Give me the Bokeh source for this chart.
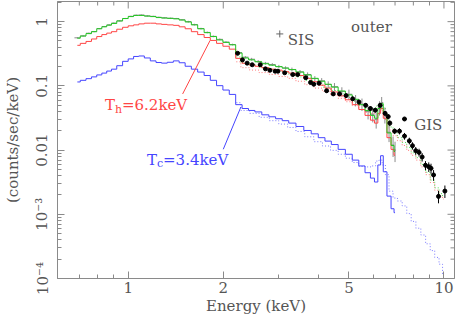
import numpy as np
from math import pi
from bokeh.plotting import figure
from bokeh.models import FixedTicker
from bokeh.core.properties import value
from bokeh.embed import file_html
from bokeh.resources import INLINE

# ---------------- data ----------------
sis_energy = [0.69, 0.72, 0.75, 0.78, 0.81, 0.84, 0.87, 0.90, 0.94, 0.98,
              1.02, 1.06, 1.10, 1.15, 1.20, 1.25, 1.30, 1.36, 1.42, 1.48,
              1.55, 1.62, 1.70, 1.78, 1.86, 1.95, 2.04, 2.14, 2.24, 2.35,
              2.46, 2.58, 2.72, 2.86, 3.00, 3.15, 3.30, 3.50, 3.70, 3.90,
              4.10, 4.30, 4.50, 4.75, 5.00, 5.25, 5.50, 5.75, 5.95, 6.10,
              6.25, 6.35, 6.50, 6.70, 6.90, 7.00]
sis_total = [0.553, 0.597, 0.651, 0.698, 0.775, 0.831, 0.882, 0.939, 1.025, 1.118,
             1.199, 1.250, 1.250, 1.220, 1.199, 1.158, 1.138, 1.126, 1.106, 1.061,
             0.990, 0.891, 0.775, 0.674, 0.586, 0.519, 0.476, 0.436, 0.324, 0.272,
             0.254, 0.237, 0.221, 0.210, 0.199, 0.189, 0.179, 0.164, 0.148, 0.131,
             0.118, 0.106, 0.0956, 0.0831, 0.0723, 0.0618, 0.0510, 0.0414, 0.0347, 0.0313,
             0.0444, 0.0528, 0.0373, 0.0185, 0.0118, 0.0095]
sis_hot = [0.428, 0.459, 0.492, 0.537, 0.586, 0.629, 0.663, 0.698, 0.762, 0.817,
           0.861, 0.891, 0.923, 0.946, 0.946, 0.923, 0.907, 0.891, 0.876, 0.831,
           0.775, 0.698, 0.629, 0.566, 0.510, 0.459, 0.414, 0.373, 0.268, 0.225,
           0.213, 0.202, 0.192, 0.182, 0.176, 0.167, 0.158, 0.145, 0.131, 0.116,
           0.1025, 0.0923, 0.0803, 0.0698, 0.0607, 0.0510, 0.0428, 0.0347, 0.0292, 0.0263,
           0.0373, 0.0444, 0.0313, 0.0156, 0.01025, 0.0083]
sis_cool = [0.115, 0.122, 0.1295, 0.138, 0.148, 0.158, 0.170, 0.182, 0.206, 0.241,
            0.263, 0.287, 0.292, 0.272, 0.245, 0.231, 0.226, 0.233, 0.245, 0.229,
            0.202, 0.182, 0.164, 0.145, 0.122, 0.1007, 0.0861, 0.0736, 0.0510, 0.0444,
            0.0414, 0.0393, 0.0354, 0.0330, 0.0308, 0.0287, 0.0263, 0.0233, 0.0202, 0.0179,
            0.0156, 0.0138, 0.0122, 0.01025, 0.00861, 0.00698, 0.00566, 0.00444, 0.00366, 0.00318,
            0.00586, 0.00817, 0.00459, 0.00192, 0.00122, 0.00106]
sis_data = [0.56, 0.60, 0.66, 0.70, 0.78, 0.84, 0.89, 0.95, 1.03, 1.12,
            1.21, 1.26, 1.27, 1.23, 1.21, 1.17, 1.15, 1.13, 1.12, 1.07,
            1.00, 0.90, 0.78, 0.68, 0.59, 0.53, 0.48, 0.44, 0.33, 0.28,
            0.26, 0.24, 0.225, 0.215, 0.20, 0.19, 0.18, 0.165, 0.15, 0.13,
            0.12, 0.105, 0.097, 0.082, 0.074, 0.060, 0.052, 0.040, 0.036, 0.030,
            0.046, 0.055, 0.036, 0.019, 0.012, 0.010]
sis_data_err = [0.02, 0.02, 0.02, 0.02, 0.02, 0.02, 0.02, 0.02, 0.02, 0.02,
                0.02, 0.02, 0.02, 0.02, 0.02, 0.02, 0.02, 0.02, 0.02, 0.02,
                0.03, 0.03, 0.03, 0.03, 0.03, 0.03, 0.03, 0.03, 0.04, 0.04,
                0.05, 0.05, 0.05, 0.05, 0.06, 0.06, 0.07, 0.07, 0.08, 0.09,
                0.10, 0.12, 0.14, 0.16, 0.18, 0.20, 0.22, 0.25, 0.25, 0.28,
                0.25, 0.22, 0.28, 0.30, 0.35, 0.35]

gis_energy = [2.2, 2.35, 2.5, 2.7, 2.9, 3.1, 3.3, 3.5, 3.75, 4.0,
              4.25, 4.5, 4.75, 5.0, 5.25, 5.5, 5.75, 6.0, 6.15, 6.3,
              6.45, 6.6, 6.8, 7.0, 7.25, 7.5, 7.75, 8.0, 8.3, 8.6,
              8.9, 9.2, 9.5, 9.8, 10.0]
gis_total = [0.282, 0.229, 0.210, 0.192, 0.179, 0.167, 0.153, 0.138, 0.122, 0.108,
             0.0956, 0.0846, 0.0748, 0.0663, 0.0576, 0.0501, 0.0451, 0.0436, 0.0484, 0.0519,
             0.0451, 0.0336, 0.0229, 0.0185, 0.0156, 0.0131, 0.0110, 0.00907, 0.00762, 0.00597,
             0.00451, 0.00341, 0.00258, 0.00210, 0.00189]
gis_hot = [0.237, 0.192, 0.176, 0.161, 0.1504, 0.140, 0.131, 0.118, 0.1043, 0.0923,
           0.0817, 0.0723, 0.0640, 0.0566, 0.0492, 0.0428, 0.0386, 0.0373, 0.0414, 0.0444,
           0.0386, 0.0292, 0.0206, 0.0167, 0.0140, 0.0118, 0.0099, 0.0083, 0.00698, 0.00547,
           0.00414, 0.00313, 0.00237, 0.00192, 0.00173]
gis_cool = [0.0547, 0.0414, 0.0373, 0.0324, 0.0287, 0.0254, 0.0225, 0.0195, 0.0161, 0.0135,
            0.01158, 0.00990, 0.00861, 0.00748, 0.00640, 0.00556, 0.00547, 0.00566, 0.00674, 0.00698,
            0.00586, 0.00414, 0.00229, 0.00179, 0.00161, 0.00135, 0.001025, 0.000775, 0.000607, 0.000476,
            0.000347, 0.000272, 0.000213, 0.000167, 0.000118]

gis_data_energy = [2.22, 2.30, 2.38, 2.47, 2.62, 2.72, 2.81, 2.92, 2.98, 3.13,
                   3.32, 3.44, 3.65, 3.78, 3.87, 4.02, 4.25, 4.46, 4.67, 4.90,
                   5.14, 5.38, 5.65, 5.85, 6.06, 6.28, 6.51, 6.66, 6.74, 6.98,
                   7.23, 7.50, 7.77, 7.95, 8.14, 8.34, 8.53, 8.74, 8.95, 9.10,
                   9.27, 9.61, 10.07]
gis_data = [0.321, 0.254, 0.226, 0.213, 0.213, 0.184, 0.175, 0.169, 0.169, 0.160,
            0.150, 0.150, 0.134, 0.113, 0.106, 0.110, 0.084, 0.075, 0.075, 0.0705,
            0.0629, 0.0560, 0.0498, 0.0444, 0.0418, 0.0498, 0.0373, 0.0332, 0.0263, 0.0197,
            0.0197, 0.0165, 0.0139, 0.0117, 0.0098, 0.0092, 0.0078, 0.0058, 0.0055, 0.0052,
            0.0041, 0.0019, 0.0023]
gis_data_err = [0.05, 0.05, 0.05, 0.05, 0.05, 0.05, 0.05, 0.05, 0.05, 0.05,
                0.06, 0.06, 0.06, 0.06, 0.06, 0.06, 0.07, 0.07, 0.07, 0.07,
                0.08, 0.08, 0.08, 0.08, 0.08, 0.08, 0.09, 0.09, 0.10, 0.10,
                0.11, 0.12, 0.12, 0.13, 0.14, 0.14, 0.15, 0.16, 0.17, 0.18,
                0.19, 0.22, 0.22]

x_major = [1, 2, 5, 10]
x_minor = [0.7, 0.8, 0.9, 3, 4, 6, 7, 8, 9]
y_major = [1e-4, 1e-3, 1e-2, 1e-1, 1]
y_labels = {1e-4: "10\u207b\u2074", 1e-3: "10\u207b\u00b3", 1e-2: "0.01", 1e-1: "0.1", 1: "1"}

# annotation anchors (energy, flux)
label_outer = (5.08, 0.83)
sis_key = (3.02, 0.644)
sis_key_text = (3.2, 0.523)
gis_key = (7.5, 0.0305)
gis_key_text = (8.05, 0.0248)
th_anchor = (0.844, 0.0498)
tc_anchor = (1.147, 0.00711)
th_leader = [(1.487, 0.0748), (1.817, 0.51)]
tc_leader = [(2.0, 0.0103), (2.275, 0.047)]

X_LO, X_HI = 0.597, 10.8
Y_LO, Y_HI = 1e-4, 2.06

# ---------------- styling ----------------
FONT = "DejaVu Serif"
TXT = "#555555"
AX = "#8a8a8a"
RED = "#ff4545"
GREEN = "#22c722"
BLUE = "#4545ff"

p = figure(width=458, height=319, x_axis_type="log", y_axis_type="log",
           x_range=(X_LO, X_HI), y_range=(Y_LO, Y_HI),
           output_backend="svg", toolbar_location=None,
           min_border_left=52, min_border_right=4, min_border_top=1, min_border_bottom=41)
p.grid.visible = False
p.outline_line_color = AX
p.background_fill_color = "white"
p.border_fill_color = "white"

xt = FixedTicker(ticks=x_major, minor_ticks=x_minor)
minor_y = [m * 10.0 ** k for k in range(-4, 1) for m in range(2, 10)]
yt = FixedTicker(ticks=y_major, minor_ticks=minor_y)

def style_axis(ax, ticker):
    ax.ticker = ticker
    ax.axis_line_color = AX
    ax.major_tick_line_color = AX
    ax.minor_tick_line_color = AX
    ax.major_tick_in = 7
    ax.major_tick_out = 0
    ax.minor_tick_in = 4
    ax.minor_tick_out = 0
    ax.major_label_text_font = FONT
    ax.major_label_text_color = TXT
    ax.major_label_text_font_size = "15px"
    ax.axis_label_text_font = FONT
    ax.axis_label_text_font_style = "normal"
    ax.axis_label_text_color = TXT
    ax.axis_label_text_font_size = "15px"

xa = p.xaxis[0]
style_axis(xa, xt)
xa.major_label_standoff = 3
xa.axis_label = "Energy (keV)"
xa.axis_label_standoff = 1

ya = p.yaxis[0]
style_axis(ya, yt)
ya.major_label_orientation = "vertical"
ya.major_label_overrides = y_labels
ya.major_label_standoff = 6
ya.axis_label = "(counts/sec/keV)"
ya.axis_label_standoff = 9

# mirrored inward ticks on the top and right frame edges
p.ray(x=x_major, y=[Y_HI] * len(x_major), length=7, length_units="screen",
      angle=-pi / 2, line_color=AX, line_width=1)
p.ray(x=x_minor, y=[Y_HI] * len(x_minor), length=4, length_units="screen",
      angle=-pi / 2, line_color=AX, line_width=1)
p.ray(x=[X_HI] * len(y_major), y=y_major, length=7, length_units="screen",
      angle=pi, line_color=AX, line_width=1)
p.ray(x=[X_HI] * len(minor_y), y=minor_y, length=4, length_units="screen",
      angle=pi, line_color=AX, line_width=1)

# ---------------- GIS models (dotted) ----------------
p.step(gis_energy, gis_cool, mode="center", line_color="#7a7aff", line_width=1, line_dash="1 2")
p.step(gis_energy, gis_hot, mode="center", line_color="#ff7a7a", line_width=1, line_dash="1 2")
p.step(gis_energy, gis_total, mode="center", line_color="#55dd55", line_width=1, line_dash="1 2")

# ---------------- SIS data ----------------
se = np.array(sis_energy)
sf = np.array(sis_data)
serr = np.array(sis_data_err)
mid = np.sqrt(se[1:] * se[:-1])
lo_e = np.concatenate([[se[0] ** 2 / mid[0]], mid])
hi_e = np.concatenate([mid, [se[-1] ** 2 / mid[-1]]])
p.segment(x0=se, y0=sf * (1 - serr), x1=se, y1=sf * (1 + serr), line_color="#8c8c8c", line_width=1)
p.segment(x0=lo_e, y0=sf, x1=hi_e, y1=sf, line_color="#8c8c8c", line_width=1)

# ---------------- SIS models (solid steps) ----------------
p.step(sis_energy, sis_cool, mode="center", line_color=BLUE, line_width=1)
p.step(sis_energy, sis_hot, mode="center", line_color=RED, line_width=1)
p.step(sis_energy, sis_total, mode="center", line_color=GREEN, line_width=1)

# ---------------- GIS data ----------------
ge = np.array(gis_data_energy)
gf = np.array(gis_data)
gerr = np.array(gis_data_err)
gmid = np.sqrt(ge[1:] * ge[:-1])
glo = np.concatenate([[ge[0] ** 2 / gmid[0]], gmid])
ghi = np.concatenate([gmid, [ge[-1] ** 2 / gmid[-1]]])
p.segment(x0=ge, y0=gf * (1 - gerr), x1=ge, y1=gf * (1 + gerr), line_color="black", line_width=1)
p.segment(x0=np.sqrt(glo * ge), y0=gf, x1=np.sqrt(ghi * ge), y1=gf, line_color="black", line_width=1)
p.scatter(ge, gf, marker="circle", size=4, fill_color="black", line_color="black")

# ---------------- annotations ----------------
p.segment(x0=[th_leader[0][0]], y0=[th_leader[0][1]], x1=[th_leader[1][0]], y1=[th_leader[1][1]],
          line_color=RED, line_width=1)
p.segment(x0=[tc_leader[0][0]], y0=[tc_leader[0][1]], x1=[tc_leader[1][0]], y1=[tc_leader[1][1]],
          line_color=BLUE, line_width=1)

def txt(x, y, s, color, size="15px", xo=0, yo=0):
    p.text(x=[x], y=[y], text=[s], text_font=value(FONT), text_font_size=size,
           text_color=color, text_baseline="alphabetic", text_align="left",
           x_offset=xo, y_offset=yo)

txt(label_outer[0], label_outer[1], "outer", TXT)
txt(sis_key_text[0], sis_key_text[1], "SIS", TXT)
txt(gis_key_text[0], gis_key_text[1], "GIS", TXT)
p.scatter([sis_key[0]], [sis_key[1]], marker="cross", size=7, line_color="#666666")
p.scatter([gis_key[0]], [gis_key[1]], marker="circle", size=4, fill_color="black", line_color="black")

txt(th_anchor[0], th_anchor[1], "T", RED)
txt(th_anchor[0], th_anchor[1], "h", RED, size="11px", xo=10, yo=4)
txt(th_anchor[0], th_anchor[1], "=6.2keV", RED, xo=17)
txt(tc_anchor[0], tc_anchor[1], "T", BLUE)
txt(tc_anchor[0], tc_anchor[1], "c", BLUE, size="11px", xo=10, yo=4)
txt(tc_anchor[0], tc_anchor[1], "=3.4keV", BLUE, xo=16)

open("out.html", "w").write(file_html(p, INLINE))
